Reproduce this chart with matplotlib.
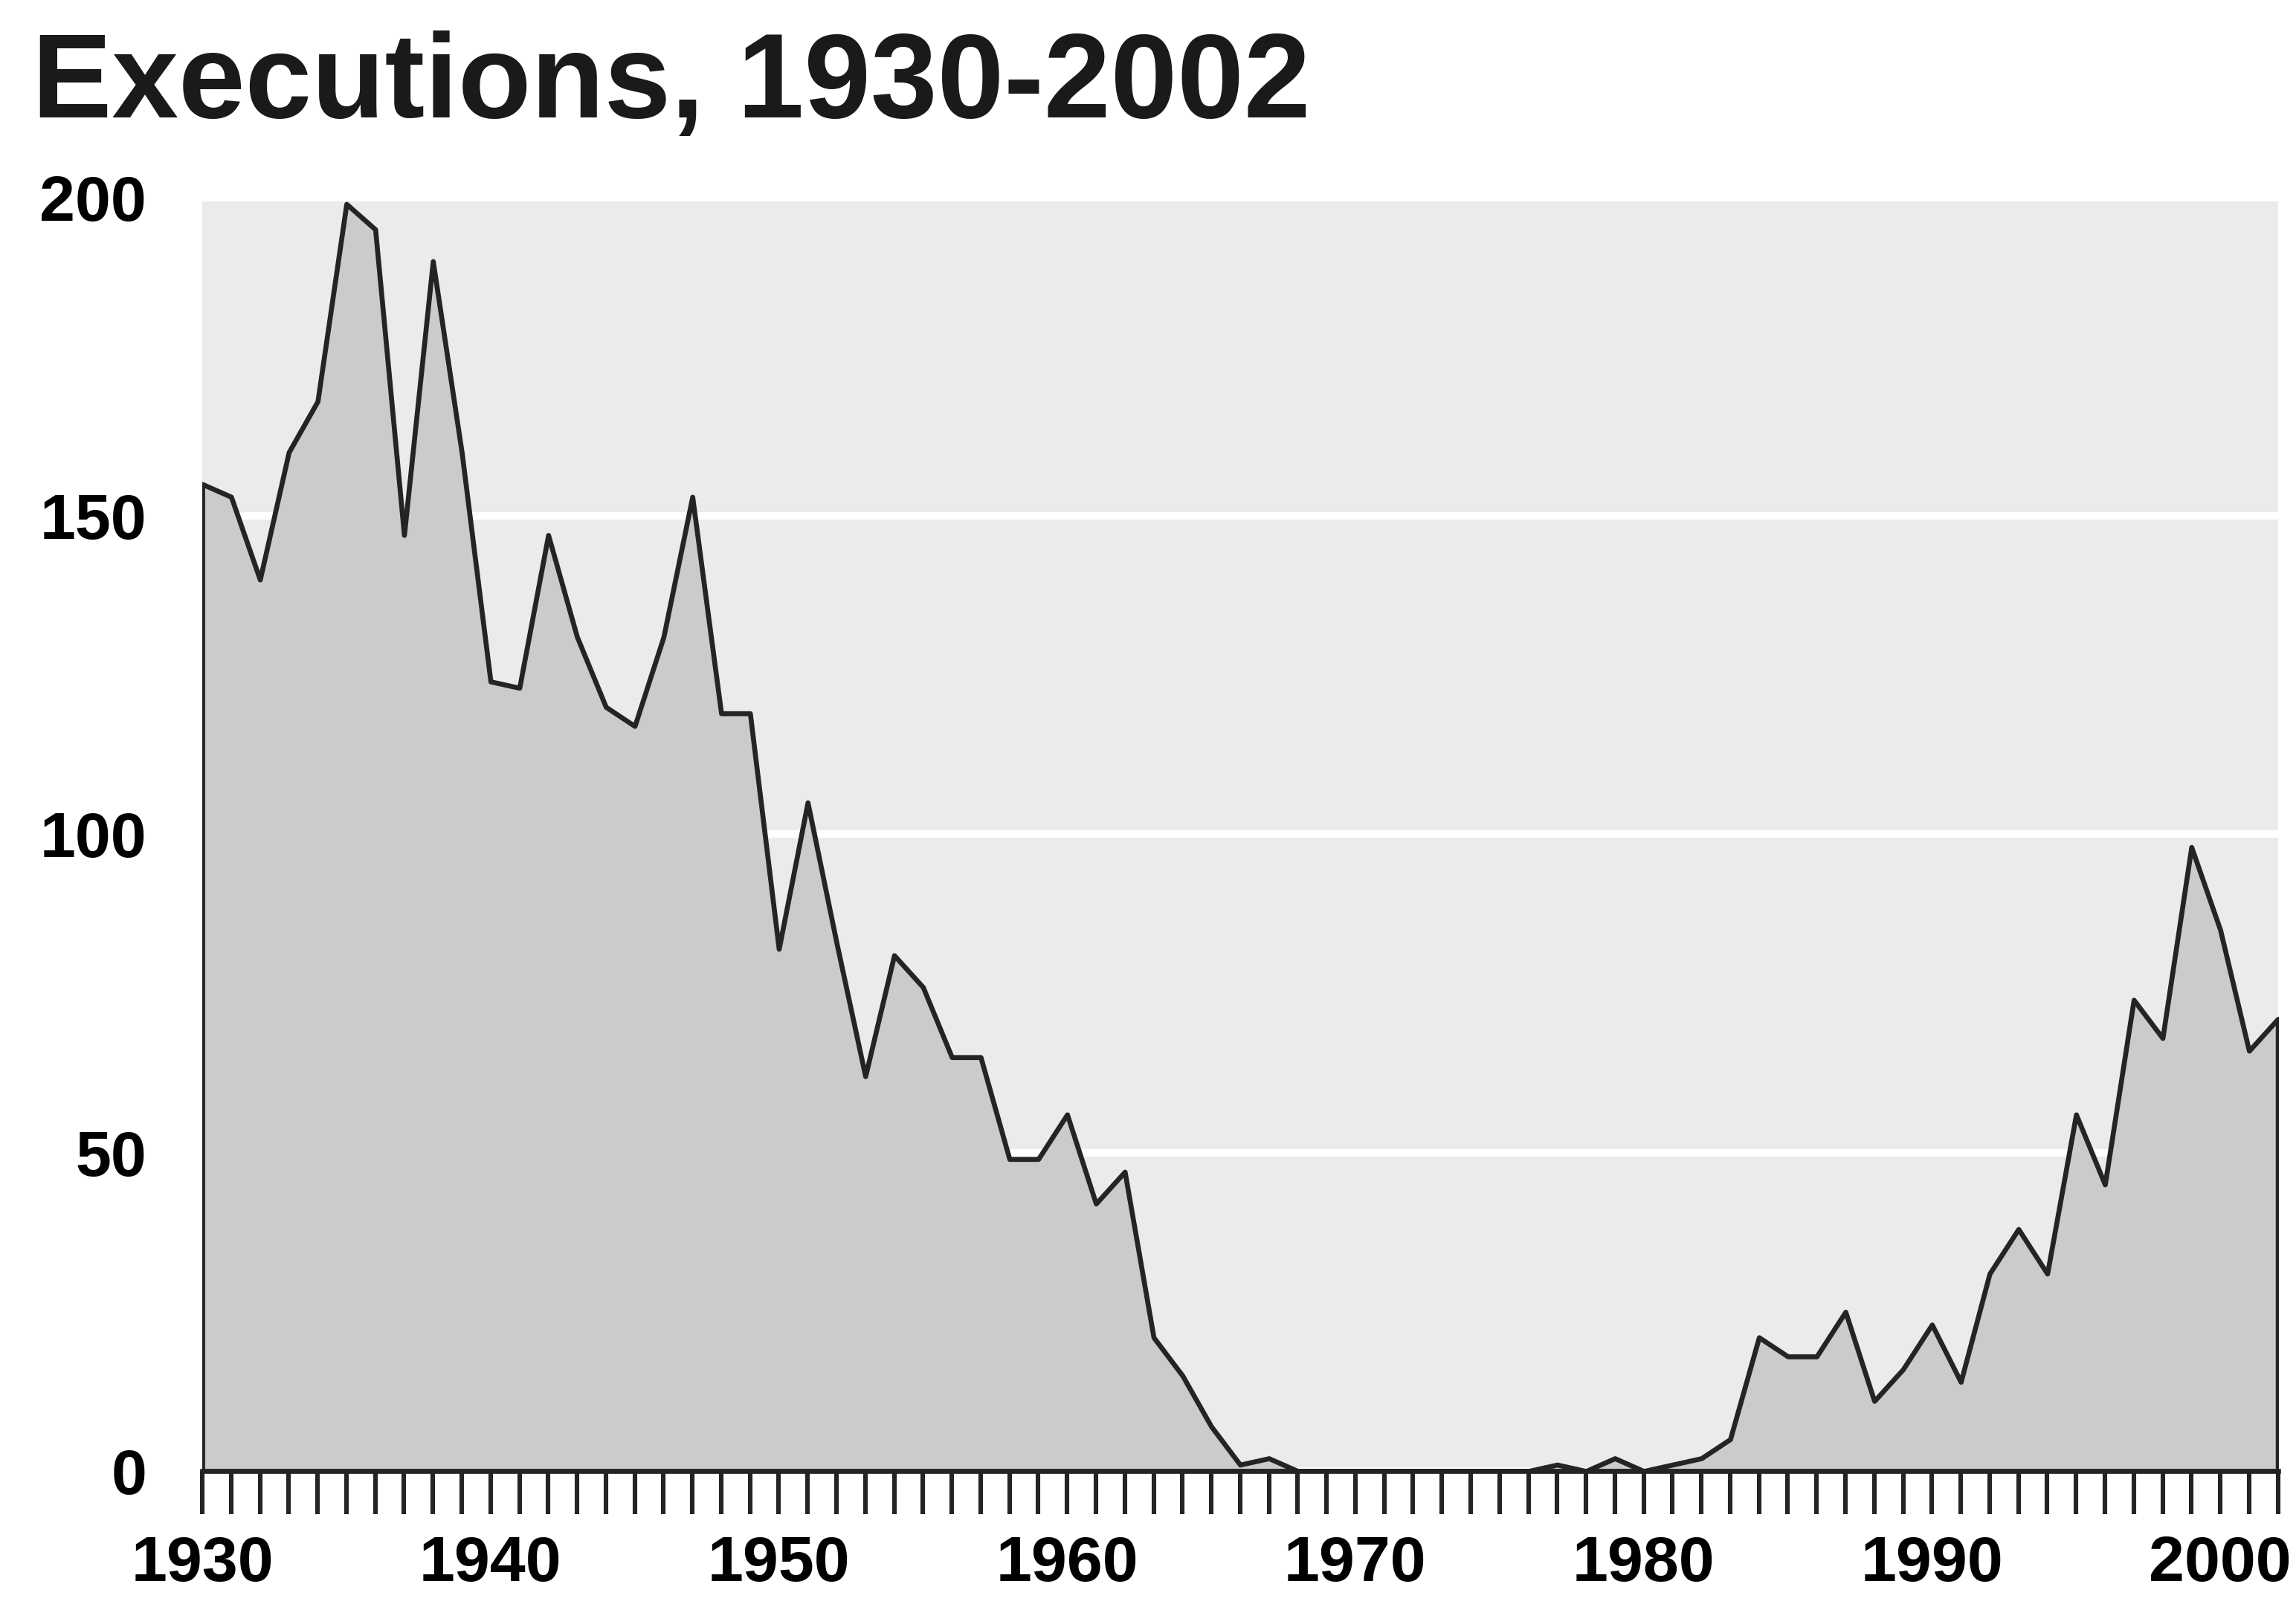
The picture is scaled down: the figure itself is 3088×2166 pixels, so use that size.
import matplotlib.pyplot as plt
from matplotlib.ticker import MultipleLocator

years = list(range(1930, 2003))
executions = [
    155, 153, 140, 160, 168, 199, 195, 147, 190, 160,  # 1930s
    124, 123, 147, 131, 120, 117, 131, 153, 119, 119,  # 1940s
    82, 105, 83, 62, 81, 76, 65, 65, 49, 49,           # 1950s
    56, 42, 47, 21, 15, 7, 1, 2, 0, 0,                 # 1960s
    0, 0, 0, 0, 0, 0, 0, 1, 0, 2,                      # 1970s
    0, 1, 2, 5, 21, 18, 18, 25, 11, 16,                # 1980s
    23, 14, 31, 38, 31, 56, 45, 74, 68, 98,            # 1990s
    85, 66, 71,                                        # 2000-2002
]
y_ticks = [0, 50, 100, 150, 200]
title = "Executions, 1930-2002"

DARK = '#242424'


def main():
    plt.rcParams['font.family'] = ['Liberation Sans', 'DejaVu Sans']
    plt.rcParams['font.weight'] = 'bold'

    fig = plt.figure(figsize=(15.44, 10.83), dpi=200)
    ax = fig.add_axes([0.0881, 0.0863, 0.904, 0.791])
    ax.set_facecolor('#ebebeb')

    ax.fill_between(years, executions, color='#cbcbcb', edgecolor=DARK,
                    linewidth=2.4, zorder=2)

    ax.set_xlim(1930, 2002)
    ax.set_ylim(0, 200)
    ax.set_yticks(y_ticks)
    ax.yaxis.grid(True, color='white', linewidth=3.6)
    ax.set_axisbelow(True)

    ax.xaxis.set_major_locator(MultipleLocator(10))
    ax.xaxis.set_minor_locator(MultipleLocator(1))
    ax.tick_params(axis='x', which='both', direction='out', length=21,
                   width=2.2, color=DARK, pad=10, labelsize=31)
    ax.tick_params(axis='y', length=0, pad=27, labelsize=31)

    for side in ['top', 'right', 'left']:
        ax.spines[side].set_visible(False)
    ax.spines['bottom'].set_color(DARK)
    ax.spines['bottom'].set_linewidth(2.4)
    ax.spines['bottom'].set_zorder(4)

    fig.text(0.014, 0.927, title, fontsize=58, fontweight='bold',
             ha='left', va='baseline', color='#1a1a1a')

    fig.savefig('out.png', dpi=200, facecolor='white')


if __name__ == '__main__':
    main()
